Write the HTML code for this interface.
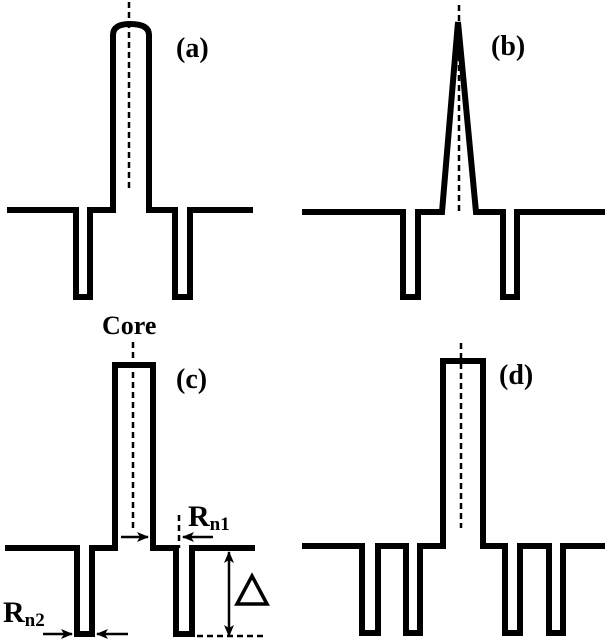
<!DOCTYPE html>
<html><head><meta charset="utf-8"><style>
html,body{margin:0;padding:0;background:#fff;width:609px;height:644px;overflow:hidden}
svg{display:block}
text{font-family:"Liberation Serif",serif;font-weight:bold;fill:#000}
</style></head><body>
<svg width="609" height="644" viewBox="0 0 609 644" xmlns="http://www.w3.org/2000/svg">
<defs>
<marker id="ah" markerWidth="12" markerHeight="10" refX="11" refY="5" orient="auto" markerUnits="userSpaceOnUse" viewBox="0 0 12 10">
<path d="M0,0 L12,5 L0,10 L3,5 Z" fill="#000"/></marker>
</defs>
<g fill="none" stroke="#000" stroke-width="6" stroke-linejoin="miter">
<path d="M7,210 H76 V297 H90 V210 H113 V35 Q113,24 130,24 Q149,24 149,35 V210 H175 V297 H190 V210 H253"/>
<path d="M302,212 H403 V297 H418 V212 H442 L458,22 L476,212 H503 V297 H517 V212 H605"/>
<path d="M5,548 H77 V634 H92 V548 H115 V365 H153 V548 H176 V634 H192 V548 H255"/>
<path d="M302,546 H362 V633 H378 V546 H406 V633 H420 V546 H443 V361 H483 V546 H505 V633 H520 V546 H549 V633 H563 V546 H605"/>
</g>
<g stroke="#000" stroke-width="2.5" stroke-dasharray="6,4" fill="none">
<line x1="129" y1="2" x2="129" y2="192"/>
<line x1="459" y1="5" x2="459" y2="215"/>
<line x1="133" y1="342" x2="133" y2="532"/>
<line x1="461" y1="343" x2="461" y2="528"/>
<line x1="179" y1="515" x2="179" y2="548"/>
<line x1="197" y1="636" x2="265" y2="636"/>
</g>
<g stroke="#000" stroke-width="2.5" fill="none">
<line x1="121" y1="537" x2="148" y2="537" marker-end="url(#ah)"/>
<line x1="213" y1="537" x2="183" y2="537" marker-end="url(#ah)"/>
<line x1="43" y1="634" x2="72" y2="634" marker-end="url(#ah)"/>
<line x1="128" y1="634" x2="97" y2="634" marker-end="url(#ah)"/>
<line x1="229" y1="562" x2="229" y2="626"/>
<line x1="229" y1="562" x2="229" y2="552" marker-end="url(#ah)"/>
<line x1="229" y1="626" x2="229" y2="636" marker-end="url(#ah)"/>
</g>
<text x="176" y="57" font-size="28">(a)</text>
<text x="491" y="55" font-size="28">(b)</text>
<text x="176" y="388" font-size="28">(c)</text>
<text x="499" y="384" font-size="28">(d)</text>
<text x="102" y="334" font-size="26">Core</text>
<text x="188" y="526" font-size="30">R<tspan font-size="19" dy="4">n1</tspan></text>
<text x="3" y="622" font-size="30">R<tspan font-size="19" dy="4">n2</tspan></text>
<polygon points="252,576 237,604 267,604" fill="none" stroke="#000" stroke-width="3.5"/>
</svg>
</body></html>
